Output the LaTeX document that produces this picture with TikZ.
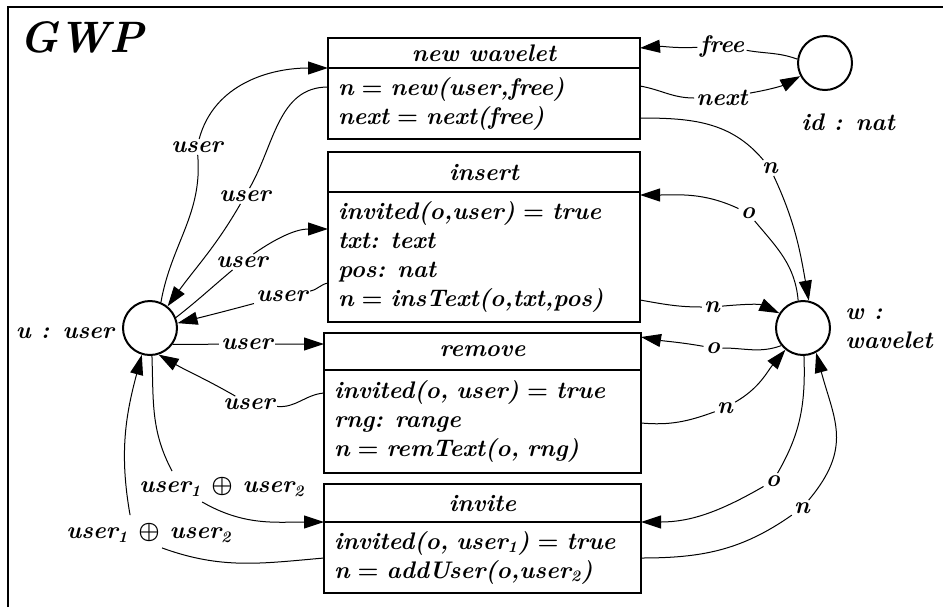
\documentclass[tikz,border=0pt]{standalone}
\usetikzlibrary{arrows.meta,calc}
\newcommand\gwpfont{\fontsize{12}{14.5}\selectfont\bfseries\itshape\boldmath}
\begin{document}
\begin{tikzpicture}[x=0.5pt,y=-0.5pt,
  lab/.style={font=\gwpfont, inner sep=1pt},
  place/.style={circle, draw, line width=1pt, minimum size=27pt, inner sep=0pt},
  hdr/.style={draw, line width=1pt, font=\gwpfont, anchor=north west, inner sep=0pt, outer sep=0pt},
  body/.style={draw, line width=1pt, font=\gwpfont, anchor=north west, align=left,
    inner xsep=5pt, inner ysep=0pt, outer sep=0pt},
  flow/.style={line width=0.5pt, -{Triangle[length=10pt,width=6.5pt]}}
]
\useasboundingbox (0,0) rectangle (943,607);

% frame and title
\draw[line width=1pt] (8,607) -- (8,7) -- (943,7);
\node[font=\fontsize{22}{24}\selectfont\bfseries\itshape] (title) at (82,37) {GWP};

% transitions
\node[hdr, minimum width=156pt, minimum height=15pt] (nwH) at (328,38) {new wavelet};
\node[body, minimum width=156pt, minimum height=35.5pt, text width=146pt] (nw) at (nwH.south west)
  {n $=$ new(user,free)\\next $=$ next(free)};

\node[hdr, minimum width=156pt, minimum height=20pt] (insH) at (328,152) {insert};
\node[body, minimum width=156pt, minimum height=65pt, text width=146pt] (ins) at (insH.south west)
  {invited(o,user) $=$ true\\txt: text\\pos: nat\\n $=$ insText(o,txt,pos)};

\node[hdr, minimum width=158.5pt, minimum height=18.5pt] (remH) at (324,333) {remove};
\node[body, minimum width=158.5pt, minimum height=51.5pt, text width=148.5pt] (rem) at (remH.south west)
  {invited(o, user) $=$ true\\rng: range\\n $=$ remText(o, rng)};

\node[hdr, minimum width=158.5pt, minimum height=19pt] (invH) at (324,484) {invite};
\node[body, minimum width=158.5pt, minimum height=35.5pt, text width=148.5pt] (inv) at (invH.south west)
  {invited(o, user\textsubscript{1}) $=$ true\\n $=$ addUser(o,user\textsubscript{2})};

% places
\node[place] (u) at (150,328) {};
\node[place] (w) at (803,328) {};
\node[place] (id) at (825,63) {};
\node[lab] (ulab) at (65,333) {u : user};
\node[lab] (idlab) at (848,122) {id : nat};
\node[lab, align=left, anchor=west] (wlab) at (843,329) {w :\\wavelet};

% arc labels
\node[lab] (l1) at (197,147) {user};
\node[lab] (l2) at (245,196) {user};
\node[lab] (l3) at (242,262) {user};
\node[lab] (l4) at (282,296) {user};
\node[lab] (l5) at (247,344) {user};
\node[lab] (l6) at (249,404) {user};
\node[lab] (l7) at (222,487) {user\textsubscript{1} $\oplus$ user\textsubscript{2}};
\node[lab] (l8) at (149,533) {user\textsubscript{1} $\oplus$ user\textsubscript{2}};
\node[lab] (l9) at (722,46) {free};
\node[lab] (l10) at (722,98) {next};
\node[lab] (l11) at (770,168) {n};
\node[lab] (l12) at (748,213) {o};
\node[lab] (l13) at (712,307) {n};
\node[lab] (l14) at (713,348) {o};
\node[lab] (l15) at (725,408) {n};
\node[lab] (l16) at (773,481) {o};
\node[lab] (l17) at (802,508) {n};

% arcs on the user side
\draw[flow] (u.67) to[out=80,in=-85] (l1) to[out=75,in=180] (nwH.south west);
\draw[flow] ($(nw.north west)+(0,19)$) to[out=180,in=60] (l2) to[out=-120,in=54] (u.51);
\draw[flow] (u.22) to[out=38,in=-140] (l3) to[out=35,in=180] ($(ins.north west)+(0,37)$);
\draw[flow] ($(ins.north west)+(0,91)$) to[out=190,in=10] (l4) to[out=195,in=14] (u.10);
\draw[flow] (u.-36) -- (l5) -- ($(remH.north west)+(0,11)$);
\draw[flow] ($(rem.north west)+(0,23)$) to[out=185,in=-5] (l6) to[out=150,in=-30] (u.-72);
\draw[line width=0.5pt] (u.-86) to[out=-88,in=118] ($(l7.north west)+(35,-4)$);
\draw[flow] ($(l7.south west)+(65,3)$) to[out=-30,in=180] (invH.south west);
\draw[line width=0.5pt] ($(inv.north west)+(0,36)$) to[out=185,in=-20] ($(l8.south west)+(98,3)$);
\draw[flow] ($(l8.north west)+(66,-6)$) to[out=100,in=-105] (u.-107);

% arcs on the wavelet side
\draw[flow] (id.172) to[out=160,in=-10] (l9) to[out=183,in=5] ($(nwH.north east)+(0,10)$);
\draw[flow] ($(nw.north east)+(0,18)$) to[out=-10,in=180] (l10) to[out=10,in=-152] (id.-152);
\draw[flow] ($(nw.north east)+(0,50)$) to[out=0,in=130] (l11) to[out=-65,in=100] (w.78);
\draw[flow] (w.100) to[out=95,in=-50] (l12) to[out=155,in=0] ($(ins.north east)+(0,3)$);
\draw[flow] ($(ins.north east)+(0,108)$) to[out=-10,in=180] (l13) to[out=5,in=155] (w.148);
\draw[flow] (w.-141) to[out=-160,in=0] (l14) to[out=170,in=-10] ($(remH.north east)+(0,4)$);
\draw[flow] ($(rem.north east)+(0,53)$) to[out=-5,in=200] (l15) to[out=30,in=-130] (w.-129);
\draw[flow] (w.-88) to[out=-88,in=60] (l16) to[out=-150,in=0] (invH.south east);
\draw[flow] ($(inv.north east)+(0,36)$) to[out=0,in=-145] (l17) to[out=50,in=-75,looseness=1.2] (w.-62);
\end{tikzpicture}
\end{document}
